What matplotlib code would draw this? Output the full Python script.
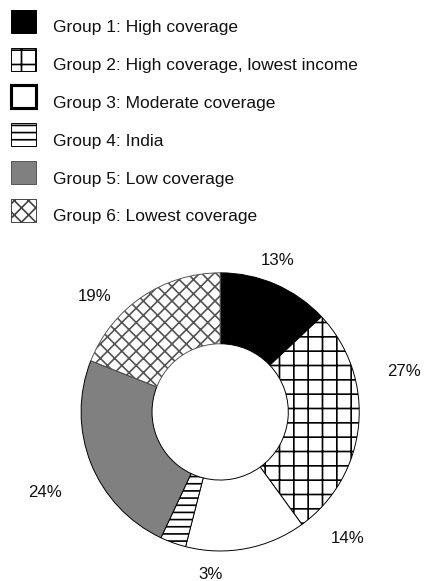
import matplotlib.pyplot as plt
from matplotlib.patches import Rectangle

# coverage groups and their share of the total (percent)
groups = ["Group 1: High coverage",
          "Group 2: High coverage, lowest income",
          "Group 3: Moderate coverage",
          "Group 4: India",
          "Group 5: Low coverage",
          "Group 6: Lowest coverage"]
shares = [13, 27, 14, 3, 24, 19]
fills = ["black", "white", "white", "white", "#808080", "white"]
hatches = [None, "+", None, "--", None, "xx"]

# where each percentage label sits, in pie radius units
label_pos = [(0.41, 1.09), (1.32, 0.29), (0.92, -0.91),
             (-0.07, -1.17), (-1.26, -0.58), (-0.90, 0.83)]

DPI = 86.4
W, H = 424, 581
plt.rcParams["font.family"] = ["Liberation Sans", "DejaVu Sans"]
plt.rcParams["hatch.linewidth"] = 1.4

fig = plt.figure(figsize=((W + 0.3) / DPI, (H + 0.3) / DPI), dpi=DPI)

# donut
cx, cy, r = 220, 412, 139
ax = fig.add_axes([(cx - r) / W, (H - cy - r) / H, 2 * r / W, 2 * r / H])
wedges, _ = ax.pie(shares, colors=fills, hatch=hatches, startangle=90,
                   counterclock=False,
                   wedgeprops=dict(width=0.51, edgecolor="black", linewidth=0.8))
# lighter cross-hatching on the last group
wedges[5].set_edgecolor("#555555")
ax.set_xlim(-1, 1)
ax.set_ylim(-1, 1)
ax.set_aspect("equal")
ax.axis("off")

for v, (x, y) in zip(shares, label_pos):
    ax.text(x, y, f"{v}%", ha="center", va="center", fontsize=14,
            color="#111111", clip_on=False)

# legend drawn by hand in pixel coordinates
lg = fig.add_axes([0, 0, 1, 1], facecolor="none")
lg.set_xlim(0, W)
lg.set_ylim(H, 0)
lg.axis("off")

edge_w = [0.8, 0.8, 2.6, 0.8, 0.8, 0.8]
edge_c = ["black", "black", "black", "black", "#555555", "#444444"]
row0, step = 21.5, 37.8
for i, name in enumerate(groups):
    yc = row0 + i * step
    lg.add_patch(Rectangle((10.5, yc - 11.5), 25, 23, facecolor=fills[i],
                           hatch=hatches[i], edgecolor=edge_c[i],
                           linewidth=edge_w[i]))
    lg.text(53, yc + 10.8, name, ha="left", va="baseline", fontsize=14.5,
            color="#111111")

fig.savefig("out.png", dpi=DPI, facecolor="white")
